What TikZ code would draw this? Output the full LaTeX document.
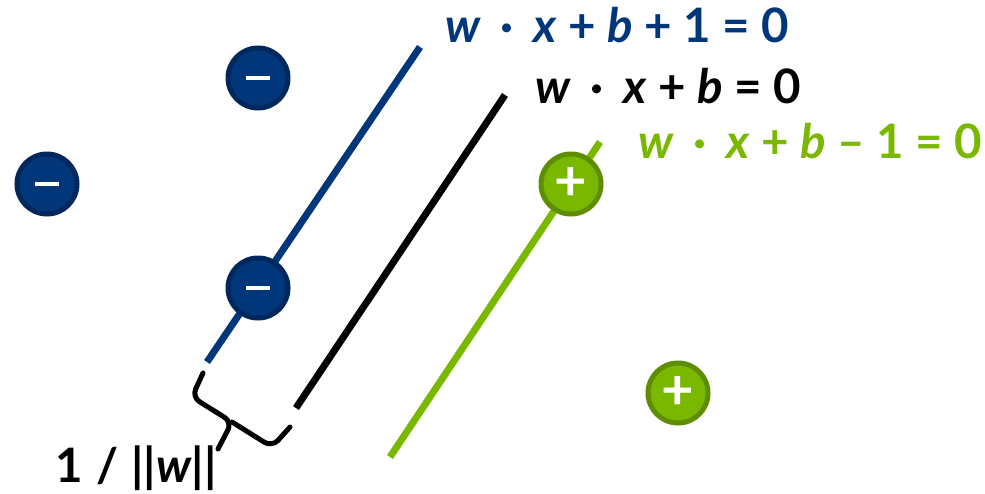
\documentclass[tikz,border=0pt]{standalone}
\usepackage{fontspec}
\setmainfont{Lato}
\usepackage{tikz}
\usetikzlibrary{decorations.pathreplacing, positioning, calc}
\definecolor{svmblue}{HTML}{00377A}
\definecolor{svmblueedge}{HTML}{00285C}
\definecolor{svmgreen}{HTML}{7AB800}
\definecolor{svmgreenedge}{HTML}{5E8E00}

\begin{document}
\begin{tikzpicture}[
    negsample/.style={circle, draw=svmblueedge, fill=svmblue, line width=0.05cm,
      minimum size=0.60cm, inner sep=0pt, text=white},
    possample/.style={circle, draw=svmgreenedge, fill=svmgreen, line width=0.05cm,
      minimum size=0.60cm, inner sep=0pt, text=white, font=\fontsize{16}{16}\selectfont\bfseries},
    hyp/.style={line width=0.07cm},
    eqn/.style={anchor=base west, inner sep=0pt, font=\fontsize{13.5}{14}\selectfont\bfseries}]
\useasboundingbox (0,0) rectangle (9.85,4.93);

%% hyperplanes
\coordinate (B0) at (2.07,1.31); \coordinate (B1) at (4.20,4.46);
\coordinate (K0) at (2.96,0.85); \coordinate (K1) at (5.05,3.98);
\coordinate (G0) at (3.90,0.36); \coordinate (G1) at (6.00,3.51);
\draw[hyp, svmblue] (B0) -- (B1);
\draw[hyp, black] (K0) -- (K1);
\draw[hyp, svmgreen] (G0) -- (G1);

%% margin brace
\coordinate (S0) at (2.03,1.20);
\coordinate (C0) at (1.92,0.96);
\coordinate (Mb) at (2.32,0.71);
\coordinate (Tp) at (2.18,0.44);
\coordinate (C1) at (2.72,0.46);
\coordinate (S1) at (2.90,0.66);
\draw[line width=0.05cm, rounded corners=2.5pt, line cap=round]
  (S0) -- (C0) -- (Mb) -- (Tp);
\draw[line width=0.05cm, rounded corners=2.5pt, line cap=round]
  (Mb) -- (C1) -- (S1);

%% samples
\foreach \i/\x/\y in {1/2.58/4.15, 2/0.47/3.09, 3/2.58/2.05}{
  \node[negsample] (M\i) at (\x,\y) {\raisebox{-0.04cm}{\rule{0.24cm}{0.04cm}}};
}
\foreach \i/\x/\y in {1/5.71/3.09, 2/6.78/1.00}{
  \node[possample] (P\i) at (\x,\y) {+};
}

%% labels
\node[eqn, text=svmblue] (eqB) at (4.45,4.51)
  {\textit{w} \,·\, \textit{x} + \textit{b} + 1 = 0};
\node[eqn, text=black] (eqK) at (5.35,3.90)
  {\textit{w} \,·\, \textit{x} + \textit{b} = 0};
\node[eqn, text=svmgreen] (eqG) at (6.38,3.35)
  {\textit{w} \,·\, \textit{x} + \textit{b} – 1 = 0};
\node[eqn] (mrg) at (0.55,0.11) {1\kern0.13cm/\kern0.13cm||\textit{w}||};
\end{tikzpicture}
\end{document}
